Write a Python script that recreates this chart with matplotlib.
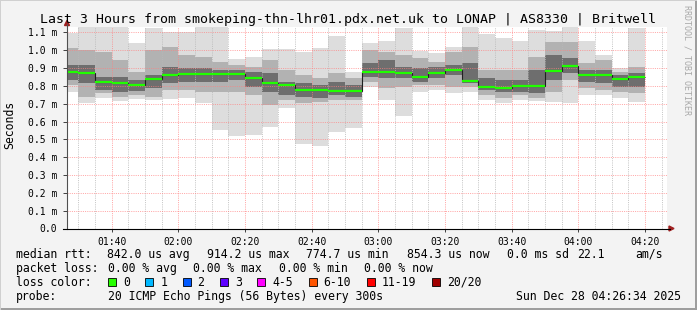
import matplotlib
matplotlib.use("Agg")
import matplotlib.pyplot as plt
import matplotlib.dates as mdates
from matplotlib.lines import Line2D
from matplotlib.patches import Polygon, Rectangle
from matplotlib.ticker import FuncFormatter, MultipleLocator
import pandas as pd

plt.rcParams["font.family"] = ["DejaVu Sans Mono"]

W, H = 697, 310

# 5-minute rrd steps, each value covers (t-5min, t]
bin_end = pd.date_range("2025-12-28 01:30", "2025-12-28 04:20", freq="5min")
view_start = pd.Timestamp("2025-12-28 01:26:34")
view_end = pd.Timestamp("2025-12-28 04:26:34")

# median rtt per step (ms)
median_ms = [0.878, 0.874, 0.824, 0.818, 0.805, 0.839, 0.862, 0.868, 0.864, 0.868,
             0.868, 0.846, 0.818, 0.806, 0.777, 0.776, 0.773, 0.773, 0.880, 0.880,
             0.874, 0.852, 0.874, 0.891, 0.829, 0.796, 0.790, 0.800, 0.800, 0.886,
             0.914, 0.861, 0.863, 0.841, 0.852]
# smoke envelope: slowest / fastest ping
max_ms = [1.095, 1.130, 1.130, 1.130, 1.039, 1.123, 1.104, 1.101, 1.130, 1.130,
          0.950, 0.959, 1.006, 1.006, 0.992, 1.011, 1.080, 0.880, 1.043, 1.054,
          1.123, 0.996, 0.983, 1.020, 1.130, 1.090, 1.070, 1.054, 1.114, 1.110,
          1.130, 1.052, 0.974, 0.899, 1.123]
min_ms = [0.768, 0.706, 0.734, 0.715, 0.727, 0.721, 0.727, 0.734, 0.703, 0.553,
          0.519, 0.525, 0.571, 0.675, 0.474, 0.465, 0.543, 0.566, 0.796, 0.721,
          0.631, 0.768, 0.777, 0.759, 0.768, 0.721, 0.706, 0.721, 0.715, 0.712,
          0.703, 0.749, 0.749, 0.731, 0.712]
# middle smoke band
mid_hi = [1.011, 1.002, 0.992, 0.946, 0.880, 1.002, 1.020, 0.974, 0.964, 0.936,
          0.917, 0.908, 0.946, 0.889, 0.861, 0.843, 0.871, 0.843, 1.002, 0.992,
          0.974, 0.955, 0.936, 0.992, 1.020, 0.889, 0.889, 0.889, 0.964, 1.048,
          1.048, 0.927, 0.946, 0.880, 0.908]
mid_lo = [0.805, 0.740, 0.759, 0.740, 0.749, 0.740, 0.777, 0.777, 0.768, 0.768,
          0.768, 0.749, 0.693, 0.721, 0.703, 0.712, 0.721, 0.721, 0.824, 0.787,
          0.796, 0.805, 0.805, 0.796, 0.796, 0.749, 0.731, 0.749, 0.731, 0.768,
          0.833, 0.787, 0.777, 0.768, 0.759]
# dark core band
dark_hi = [0.917, 0.917, 0.852, 0.852, 0.833, 0.861, 0.908, 0.899, 0.899, 0.889,
           0.889, 0.880, 0.871, 0.824, 0.815, 0.805, 0.824, 0.805, 0.927, 0.946,
           0.908, 0.899, 0.908, 0.917, 0.927, 0.843, 0.833, 0.833, 0.889, 0.974,
           0.955, 0.889, 0.889, 0.861, 0.871]
dark_lo = [0.833, 0.815, 0.777, 0.768, 0.773, 0.787, 0.815, 0.824, 0.824, 0.824,
           0.833, 0.796, 0.768, 0.749, 0.740, 0.731, 0.749, 0.740, 0.852, 0.843,
           0.843, 0.824, 0.843, 0.861, 0.815, 0.777, 0.768, 0.768, 0.759, 0.833,
           0.871, 0.824, 0.815, 0.796, 0.796]

loss_labels = ["0", "1", "2", "3", "4-5", "6-10", "11-19", "20/20"]
loss_colors = ["#26ff00", "#00b8ff", "#0059ff", "#5e00ff", "#ff00ff",
               "#ff5500", "#ff0000", "#a10000"]


def fx(x):
    return x / W


def fy(y):
    return 1 - y / H


fig = plt.figure(figsize=(W / 100, H / 100), dpi=100, facecolor="#f3f3f3")
ax = fig.add_axes([fx(67), fy(228.5), 600 / W, 201.5 / H])
ax.set_facecolor("white")

ends = mdates.date2num(bin_end.to_pydatetime())
step = 5 / 1440
starts = ends - step

layers = [(min_ms, max_ms, "#dddddd"),
          (mid_lo, mid_hi, "#b2b2b2"),
          (dark_lo, dark_hi, "#6e6e6e")]
for z, (lo, hi, col) in enumerate(layers):
    ax.bar(starts, [h - l for l, h in zip(lo, hi)], width=step, bottom=lo,
           align="edge", color=col, linewidth=0, antialiased=False, zorder=1 + z * 0.1)

edges = list(starts) + [ends[-1]]
ax.stairs(median_ms, edges, baseline=None, color="#202020", lw=0.8, zorder=3)
ax.hlines(median_ms, starts, ends, colors="#20ff00", lw=1.6, zorder=3.1)

ax.set_xlim(mdates.date2num(view_start.to_pydatetime()),
            mdates.date2num(view_end.to_pydatetime()))
ax.set_ylim(0, 1.13)

ax.xaxis.set_major_locator(mdates.MinuteLocator(byminute=[0, 20, 40]))
ax.xaxis.set_minor_locator(mdates.MinuteLocator(byminute=range(0, 60, 5)))
ax.xaxis.set_major_formatter(mdates.DateFormatter("%H:%M"))
ax.yaxis.set_major_locator(MultipleLocator(0.1))
ax.yaxis.set_major_formatter(FuncFormatter(lambda v, p: "0.0" if abs(v) < 1e-9 else f"{v:.1f} m"))

ax.set_axisbelow(False)
dots = (0, (1, 1.2))
ax.grid(which="major", axis="both", color="#ff8080", alpha=0.7, lw=0.72, ls=dots)
ax.grid(which="minor", axis="x", color="#b8b8b8", alpha=0.8, lw=0.72, ls=dots)

ax.tick_params(axis="both", which="major", labelsize=7, colors="#404040", labelcolor="black")
ax.tick_params(axis="y", length=3, width=0.7, pad=4)
ax.tick_params(axis="x", which="major", length=2, width=0.7, pad=4)
ax.tick_params(axis="x", which="minor", length=0)
for s in ax.spines.values():
    s.set_visible(False)

# axes with arrow heads, drawn in figure space like rrdtool does
fig.add_artist(Line2D([fx(67), fx(67)], [fy(228.5), fy(24)], color="#505050", lw=0.8))
fig.add_artist(Line2D([fx(63), fx(670)], [fy(228.5), fy(228.5)], color="black", lw=0.8))
fig.add_artist(Polygon([(fx(67), fy(20.5)), (fx(64.5), fy(25.5)), (fx(69.5), fy(25.5))],
                       closed=True, color="#a02020", transform=fig.transFigure))
fig.add_artist(Polygon([(fx(674), fy(228.5)), (fx(669), fy(226)), (fx(669), fy(231))],
                       closed=True, color="#a02020", transform=fig.transFigure))

fig.text(fx(348), fy(19), "Last 3 Hours from smokeping-thn-lhr01.pdx.net.uk to LONAP | AS8330 | Britwell",
         ha="center", va="center", fontsize=9.5)
fig.text(fx(10), fy(125), "Seconds", rotation=90, ha="center", va="center", fontsize=8.3)
fig.text(fx(687), fy(5), "RRDTOOL / TOBI OETIKER", rotation=270, ha="center", va="top",
         fontsize=6, color="#a8a8a8")

fs = 8.3
row1 = [(16, "median rtt:"), (107, "842.0 us avg"), (207, "914.2 us max"),
        (306.5, "774.7 us min"), (407, "854.3 us now"), (507, "0.0 ms sd"),
        (577, "22.1"), (635, "am/s")]
for x, t in row1:
    fig.text(fx(x), fy(254.3), t, ha="left", va="center", fontsize=fs)
row2 = [(16, "packet loss:"), (107.5, "0.00 % avg"), (193, "0.00 % max"),
        (279, "0.00 % min"), (364, "0.00 % now")]
for x, t in row2:
    fig.text(fx(x), fy(268.3), t, ha="left", va="center", fontsize=fs)

fig.text(fx(16), fy(282.3), "loss color:", ha="left", va="center", fontsize=fs)
bx = 108
for lab, col in zip(loss_labels, loss_colors):
    fig.add_artist(Rectangle((fx(bx), fy(286.3)), 8 / W, 8 / H, transform=fig.transFigure,
                             facecolor=col, edgecolor="black", lw=0.6))
    fig.text(fx(bx + 15), fy(282.3), lab, ha="left", va="center", fontsize=fs)
    bx += 15 + len(lab) * 7 + 15.3

fig.text(fx(16), fy(296.5), "probe:", ha="left", va="center", fontsize=fs)
fig.text(fx(107.5), fy(296.5), "20 ICMP Echo Pings (56 Bytes) every 300s",
         ha="left", va="center", fontsize=fs)
fig.text(fx(681), fy(296.5), "Sun Dec 28 04:26:34 2025", ha="right", va="center", fontsize=fs)

# frame shading
fig.add_artist(Rectangle((0, 0), 1, 2 / H, transform=fig.transFigure, color="#9e9e9e", lw=0))
fig.add_artist(Rectangle((1 - 2 / W, 0), 2 / W, 1, transform=fig.transFigure, color="#9e9e9e", lw=0))
fig.add_artist(Rectangle((0, 0), 1 / W, 1, transform=fig.transFigure, color="#d0d0d0", lw=0))
fig.add_artist(Rectangle((0, 1 - 1 / H), 1, 1 / H, transform=fig.transFigure, color="#d0d0d0", lw=0))

fig.savefig("out.png", dpi=100, facecolor=fig.get_facecolor())
